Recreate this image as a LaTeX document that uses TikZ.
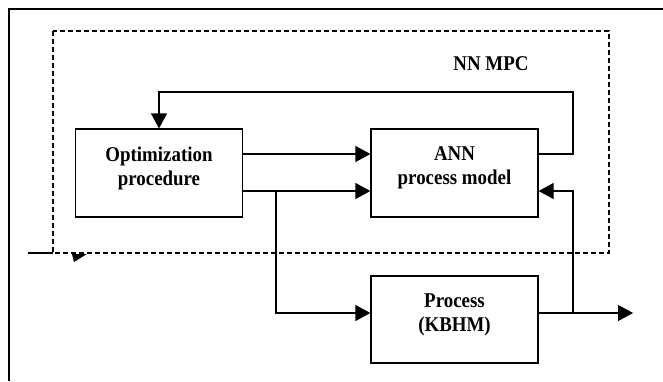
\documentclass[tikz,border=0pt]{standalone}
\usepackage{fontspec}
\setmainfont{Liberation Serif}[FakeStretch=0.9]
\usetikzlibrary{arrows.meta}
\begin{document}
\begin{tikzpicture}[x=1pt,y=-1pt,
  blk/.style={draw,line width=1.2pt,minimum width=167pt,minimum height=88pt,inner sep=0pt},
  blktext/.style={font=\fontsize{21}{24}\selectfont\bfseries,align=center,yshift=5pt},
  conn/.style={line width=1.2pt},
  arr/.style={conn,-{Triangle[length=15pt,width=16pt]}},
  lbl/.style={font=\fontsize{21}{25}\selectfont\bfseries}]
\useasboundingbox (0,0) rectangle (663,381);
\draw[line width=1.5pt] (9,381) -- (9,9) -- (663,9);
\draw[line width=1.3pt,dash pattern=on 5pt off 3pt] (53,31) rectangle (609,253);
\node[lbl] (mpc) at (491,64) {NN MPC};
\node[blk,label={[blktext]center:Optimization\\procedure}] (opt) at (159,173) {};
\node[blk,label={[blktext]center:ANN\\process model}] (ann) at (454.5,173) {};
\node[blk,minimum height=87pt,label={[blktext]center:Process\\(KBHM)}] (proc) at (454.5,319.5) {};
\coordinate (r1) at (0,154);
\coordinate (r2) at (0,191);
\coordinate (r3) at (0,313);
\coordinate (top) at (573,92);
\coordinate (br) at (276,191);
\coordinate (jn) at (573,313);
\coordinate (out) at (633,313);
\coordinate (in) at (28,253);
\coordinate (inend) at (53,253);
\draw[arr] (ann.east |- r1) -- (top |- r1) -- (top) -- (opt.north |- top) -- (opt.north);
\draw[arr] (opt.east |- r1) -- (ann.west |- r1);
\draw[arr] (opt.east |- r2) -- (ann.west |- r2);
\draw[arr] (br) -- (br |- r3) -- (proc.west |- r3);
\draw[arr] (proc.east |- r3) -- (out);
\draw[arr] (jn) -- (jn |- r2) -- (ann.east |- r2);
\draw[conn] (in) -- (inend);
\fill (72,254) -- (87,254) -- (74,262) -- cycle;
\end{tikzpicture}
\end{document}
